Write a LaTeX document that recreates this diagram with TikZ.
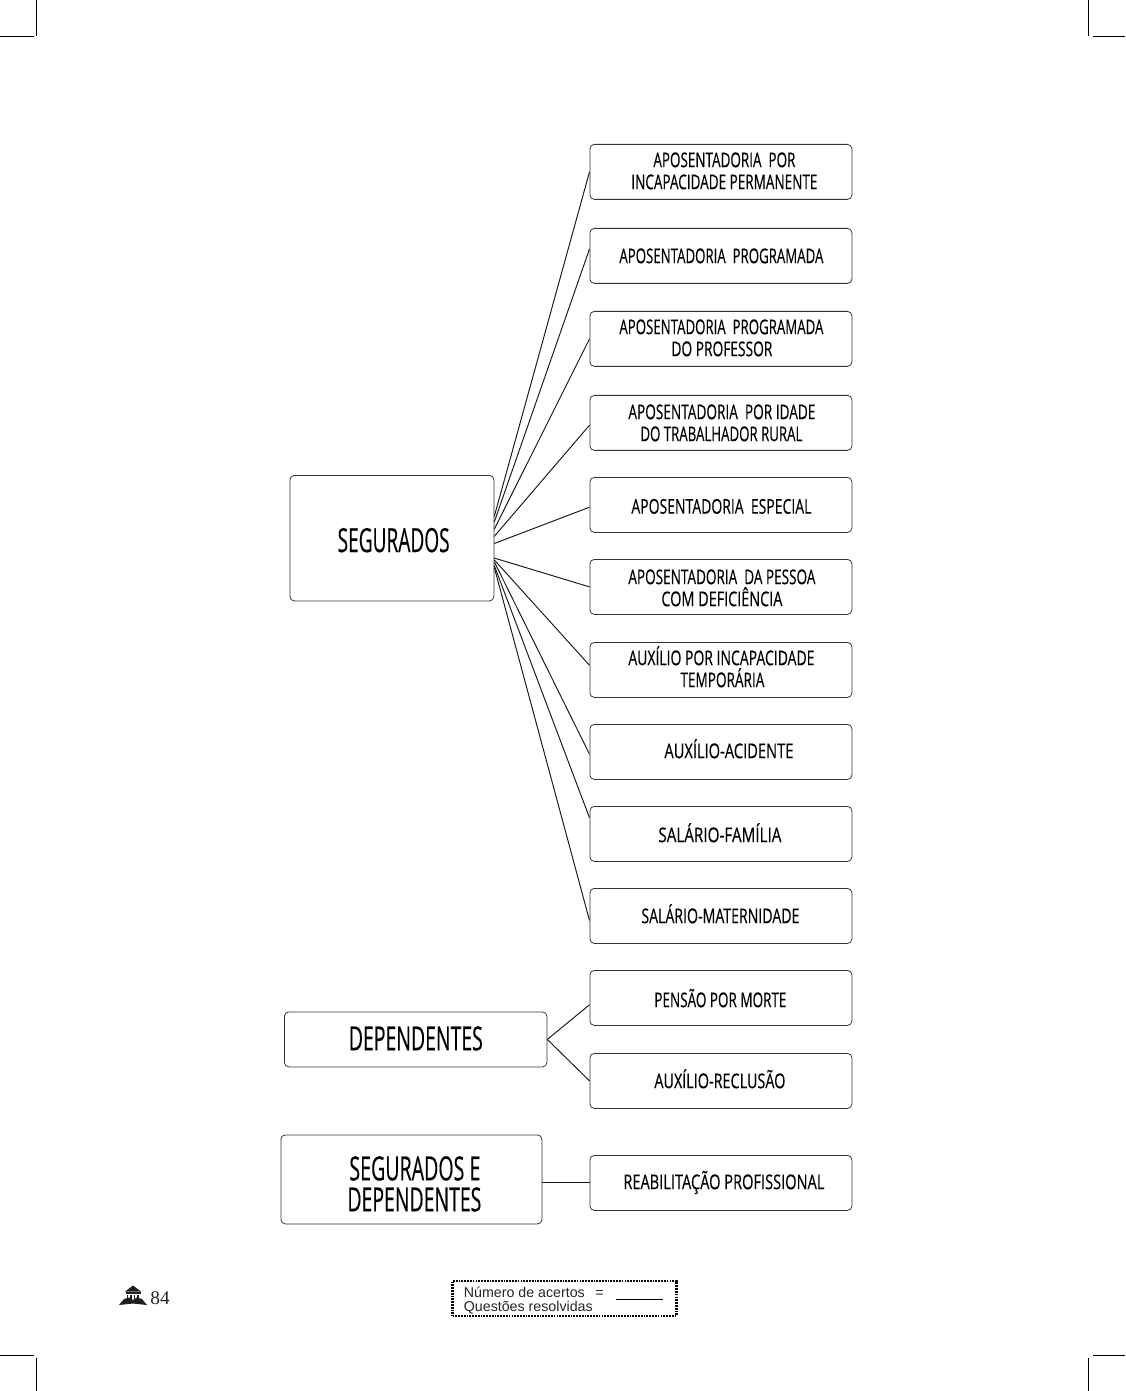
\documentclass[tikz,border=0pt]{standalone}
\usepackage{fontspec}
\usepackage{graphicx}
\setmainfont{Liberation Sans}
\newfontfamily\comicfont[FakeBold=0.35]{Open Sans}
\newfontfamily\numfont{Liberation Serif}
\newlength\pxu
\setlength\pxu{0.02cm}
% width, x offset, y offset (all in reference pixels), text
\newcommand\lbl[4]{\raisebox{-#3\pxu}[8.3pt][0pt]{\hspace*{2\dimexpr#2\pxu\relax}\resizebox{#1\pxu}{\height}{#4}}}
\newcommand\biglbl[4]{\raisebox{-#3\pxu}[13.6pt][0pt]{\hspace*{2\dimexpr#2\pxu\relax}\resizebox{#1\pxu}{\height}{#4}}}
\begin{document}
\begin{tikzpicture}[x=0.02cm,y=-0.02cm,
  bbox/.style={draw=black!80,line width=0.45pt,rounded corners=2.5pt,fill=white,inner sep=0pt,align=center,anchor=north west},
  small/.style={bbox,minimum width=262*0.02cm,minimum height=55*0.02cm,font=\comicfont\fontsize{11.6}{12.52}\selectfont},
  big/.style={bbox,font=\comicfont\fontsize{19}{17.64}\selectfont},
  link/.style={draw=black!90,line width=0.55pt},
  crop/.style={draw=black,line width=0.45pt}]
\useasboundingbox (0,0) rectangle (1125,1391);
% benefit boxes
\node[small] (b1) at (589.5,144) {\lbl{142}{3.5}{-1}{APOSENTADORIA\ \ POR}\\\lbl{186}{3.5}{-1}{INCAPACIDADE PERMANENTE}};
\node[small] (b2) at (589.5,228) {\lbl{204}{0.5}{0}{APOSENTADORIA\ \ PROGRAMADA}};
\node[small] (b3) at (589.5,311) {\lbl{204}{0.5}{-1}{APOSENTADORIA\ \ PROGRAMADA}\\\lbl{101}{1}{-1}{DO PROFESSOR}};
\node[small] (b4) at (589.5,395) {\lbl{187}{1}{0}{APOSENTADORIA\ \ POR IDADE}\\\lbl{162}{0.5}{0}{DO TRABALHADOR RURAL}};
\node[small] (b5) at (589.5,477) {\lbl{180}{0.5}{1.5}{APOSENTADORIA\ \ ESPECIAL}};
\node[small] (b6) at (589.5,559) {\lbl{187}{1}{1}{APOSENTADORIA\ \ DA PESSOA}\\\lbl{121}{1}{1}{COM DEFICIÊNCIA}};
\node[small] (b7) at (589.5,642) {\lbl{186}{0.5}{-1}{AUXÍLIO POR INCAPACIDADE}\\\lbl{84}{1.5}{-1}{TEMPORÁRIA}};
\node[small] (b8) at (589.5,724) {\lbl{129}{8}{-1}{AUXÍLIO-ACIDENTE}};
\node[small] (b9) at (589.5,806) {\lbl{123}{-1}{1}{SALÁRIO-FAMÍLIA}};
\node[small] (b10) at (589.5,888) {\lbl{158}{-0.5}{0}{SALÁRIO-MATERNIDADE}};
\node[small] (b11) at (589.5,970) {\lbl{132}{-0.5}{2}{PENSÃO POR MORTE}};
\node[small] (b12) at (589.5,1053) {\lbl{131}{-1}{0}{AUXÍLIO-RECLUSÃO}};
\node[small] (b13) at (589.5,1155) {\lbl{201}{3}{-1}{REABILITAÇÃO PROFISSIONAL}};
% group boxes
\node[big,minimum width=204*0.02cm,minimum height=125.5*0.02cm] (seg) at (289.5,475) {\biglbl{112}{1.75}{2}{SEGURADOS}};
\node[big,minimum width=262.5*0.02cm,minimum height=55*0.02cm] (dep) at (284,1011.5) {\biglbl{134}{0.2}{-1}{DEPENDENTES}};
\node[big,minimum width=261*0.02cm,minimum height=89*0.02cm] (sed) at (280.5,1134.5) {\biglbl{131}{3.5}{4.5}{SEGURADOS E}\\\biglbl{134}{3}{4.5}{DEPENDENTES}};
% connectors
\draw[link] (seg.12.7) -- (b1.west);
\draw[link] (seg.9.5) -- (b2.177.6);
\draw[link] (seg.5.6) -- (b3.180.7);
\draw[link] (seg.1.7) -- (b4.181);
\draw[link] (seg.-3.9) -- (b5.181.75);
\draw[link] (seg.-11.6) -- (b6.west);
\draw[link] (seg.-12.2) -- (b7.178.9);
\draw[link] (seg.-13.8) -- (b8.181.5);
\draw[link] (seg.-15.4) -- (b9.173.25);
\draw[link] (seg.-16.9) -- (b10.182);
\draw[link] (dep.east) -- (b11.183.3);
\draw[link] (dep.east) -- (b12.west);
\draw[link] (sed.east |- b13.west) -- (b13.west);
% crop marks
\draw[crop] (36.5,0) -- (36.5,36) (0,36) -- (34,36);
\draw[crop] (1088,0) -- (1088,36) (1093,36) -- (1125,36);
\draw[crop] (36.5,1391) -- (36.5,1358) (0,1355) -- (34,1355);
\draw[crop] (1088,1391) -- (1088,1358) (1093,1355) -- (1125,1355);
% footer icon: temple on an open book
\fill[black!88] (119,1305) -- (124,1299) -- (129,1297.5) -- (133,1300) -- (137,1297.5) -- (142,1299) -- (147,1305) -- (133,1303.5) -- cycle;
\fill[black!88] (125,1291.5) -- (133,1285.5) -- (141,1291.5) -- cycle;
\fill[black!88] (125.5,1292.3) rectangle (140.5,1293.6);
\foreach \xx in {126.5,130,133.5,137} \fill[black!88] (\xx,1294.5) rectangle (\xx+1.5,1301.5);
\node[font=\numfont\fontsize{11}{12}\selectfont,inner sep=0pt,text=black!85] (pg) at (160,1298) {84};
% footer score box
\node[draw=black,line width=1.3pt,dash pattern=on 1pt off 0.6pt,minimum width=224*0.02cm,minimum height=35*0.02cm,inner sep=0pt] (score) at (564.5,1298.5) {};
\node[anchor=base west,inner sep=0pt,font=\fontsize{8.1}{8.1}\selectfont,text=black!85] (t1) at (463.5,1297) {Número de acertos};
\node[anchor=base west,inner sep=0pt,font=\fontsize{8.1}{8.1}\selectfont,text=black!85] (t2) at (463.5,1311) {Questões resolvidas};
\node[anchor=base west,inner sep=0pt,font=\fontsize{8.1}{8.1}\selectfont,text=black!85] (eq) at (595,1297) {=};
\coordinate (fa) at (616,1299);
\coordinate (fb) at (663,1299);
\draw[black,line width=0.5pt] (fa) -- (fb);
\end{tikzpicture}
\end{document}
